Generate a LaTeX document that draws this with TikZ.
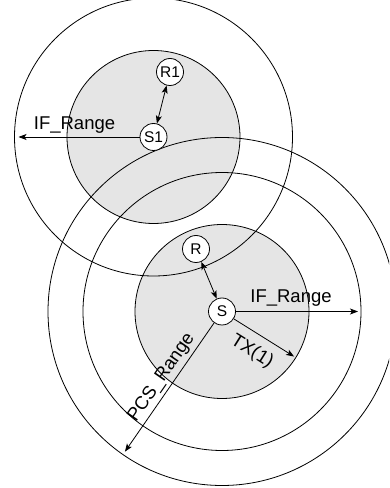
\documentclass[tikz,border=0pt]{standalone}
\usepackage{fontspec}
\setmainfont{Liberation Sans}
\usepackage{tikz}
\usetikzlibrary{arrows.meta, calc}
\definecolor{rangegray}{RGB}{229, 229, 229}
\tikzset{
  station/.style={circle, draw, fill=white, line width=0.8pt, minimum size=27pt, inner sep=0pt, font=\fontsize{15.5}{18}\selectfont},
  rangelabel/.style={font=\fontsize{18.5}{22}\selectfont, inner sep=0pt},
  rangeline/.style={line width=0.8pt},
  link/.style={line width=0.8pt, -{Stealth[length=8pt, width=6pt, inset=2pt]}},
  twolink/.style={line width=0.8pt, {Stealth[length=8pt, width=6pt, inset=2pt]}-{Stealth[length=8pt, width=6pt, inset=2pt]}}
}

\begin{document}
\begin{tikzpicture}[x=1pt, y=1pt]
  \useasboundingbox (0,0) rectangle (389,488);
  \clip (0,0) rectangle (389,488);

  % Centres of the two senders
  \coordinate (c1) at (153.5, 351);
  \coordinate (c2) at (222, 176.5);

  % Transmission ranges (grey)
  \fill[rangegray] (c1) circle (86.5);
  \fill[rangegray] (c2) circle (87);

  % Range outlines
  \draw[rangeline] (c1) circle (86.5) (c1) circle (139);
  \draw[rangeline] (c2) circle (87) (c2) circle (139) (c2) circle (174);

  % Stations
  \node[station] (S1) at (c1) {S1};
  \node[station] (R1) at (170, 416) {R1};
  \node[station] (S) at (c2) {S};
  \node[station] (R) at (196, 239) {R};

  % Ends of the range arrows
  \coordinate (if1) at ($(c1)+(-135,0)$);
  \coordinate (if2) at ($(c2)+(136,0)$);
  \coordinate (tx) at ($(c2)+(-32:85)$);
  \coordinate (pcs) at ($(c2)+(235.3:170.5)$);

  % Arrows
  \draw[link] (S1) -- (if1);
  \draw[twolink] (R1) -- (S1);
  \draw[twolink] (R) -- (S);
  \draw[link] (S) -- (if2);
  \draw[link] (S) -- (tx);
  \draw[link] (S) -- (pcs);

  % Labels
  \node[rangelabel, anchor=base] (iflab1) at (74.5, 358.7) {IF\_Range};
  \node[rangelabel, anchor=base] (iflab2) at (291, 185.3) {IF\_Range};
  \node[rangelabel, rotate=-32] (txlab) at (252, 136.5) {TX(1)};
  \node[rangelabel, rotate=55.3] (pcslab) at (161.7, 110.5) {PCS\_Range};
\end{tikzpicture}
\end{document}
